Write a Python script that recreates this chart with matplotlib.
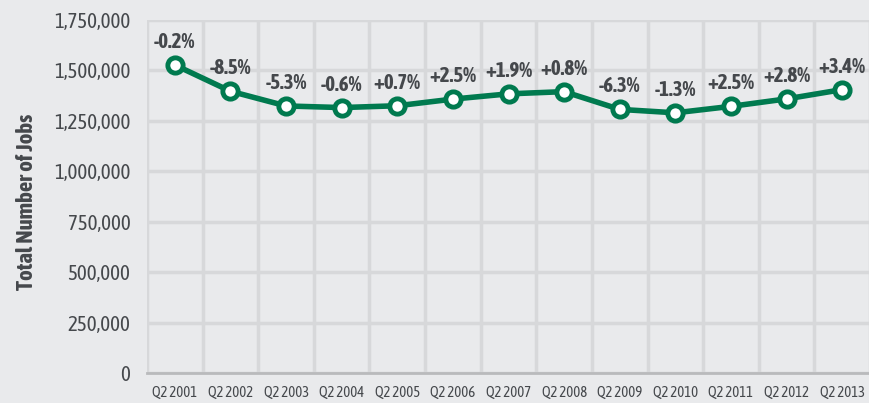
import matplotlib.pyplot as plt
from matplotlib.ticker import FuncFormatter

# quarterly job totals
quarters = ['Q2 2001', 'Q2 2002', 'Q2 2003', 'Q2 2004', 'Q2 2005', 'Q2 2006', 'Q2 2007',
            'Q2 2008', 'Q2 2009', 'Q2 2010', 'Q2 2011', 'Q2 2012', 'Q2 2013']
jobs = [1527000, 1397000, 1324000, 1316000, 1325000, 1358000, 1384000,
        1395000, 1307000, 1290000, 1322000, 1359000, 1405000]
changes = ['-0.2%', '-8.5%', '-5.3%', '-0.6%', '+0.7%', '+2.5%', '+1.9%',
           '+0.8%', '-6.3%', '-1.3%', '+2.5%', '+2.8%', '+3.4%']

plt.rcParams['font.family'] = ['Asap Condensed', 'Roboto Condensed', 'DejaVu Sans']

bg = '#e9eaec'
grid_col = '#d7d8da'
green = '#007a4f'
text_col = '#45484c'

fig = plt.figure(figsize=(8.7, 4.03), dpi=100, facecolor=bg)
ax = fig.add_axes([0.169, 0.0744, 0.831, 0.8759], facecolor=bg)

x = list(range(len(quarters)))
ax.plot(x, jobs, color=green, lw=4, marker='o', ms=11, mfc='white', mec=green,
        mew=3.5, zorder=3, clip_on=False)

for xi, yi, lab in zip(x, jobs, changes):
    ax.annotate(lab, (xi, yi), xytext=(0, 16.5), textcoords='offset points',
                ha='center', va='center', fontsize=15, fontweight='bold',
                color=text_col)

ax.set_xlim(-0.5, len(quarters) - 0.5)
ax.set_ylim(0, 1750000)
ax.set_yticks(range(0, 1750001, 250000))
ax.yaxis.set_major_formatter(FuncFormatter(lambda v, p: '{:,.0f}'.format(v)))
ax.set_xticks(x)
ax.set_xticklabels(quarters)

# vertical gridlines between categories
for b in range(len(quarters) + 1):
    ax.axvline(b - 0.5, color=grid_col, lw=2.5, zorder=1)
ax.yaxis.grid(True, color=grid_col, lw=2.5, zorder=1)
ax.set_axisbelow(True)

for s in ['top', 'right', 'left']:
    ax.spines[s].set_visible(False)
ax.spines['bottom'].set_color('#b9babc')
ax.spines['bottom'].set_linewidth(2)

ax.tick_params(axis='y', length=0, pad=12, labelsize=15, labelcolor=text_col)
ax.tick_params(axis='x', length=0, pad=9, labelsize=10.5, labelcolor=text_col)

fig.text(0.031, 0.5, 'Total Number of Jobs', rotation=90, ha='center', va='center',
         fontsize=16.5, fontweight='bold', color=text_col)

fig.savefig('out.png', dpi=100, facecolor=bg)
